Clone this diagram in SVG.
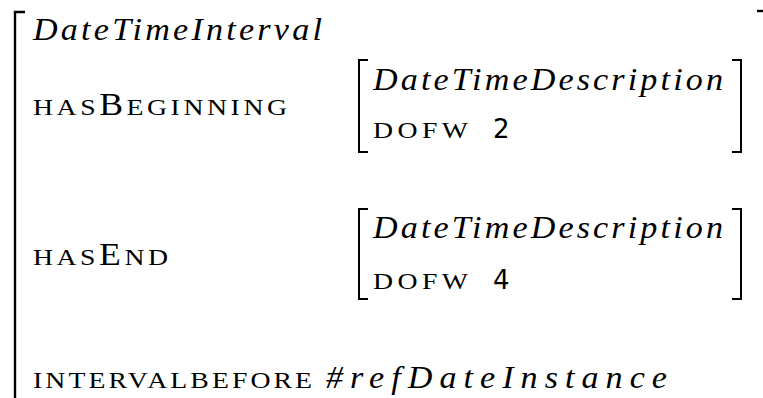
<svg xmlns="http://www.w3.org/2000/svg" width="763" height="398" viewBox="0 0 763 398">
  <style>
    .br { fill: none; stroke: #000; stroke-width: 2.4; stroke-linecap: butt; }
    .ibr { fill: none; stroke: #000; stroke-width: 2; }
    .mi { font-family: "Liberation Serif", "DejaVu Serif", serif; font-style: italic; font-size: 31px; fill: #000; }
    .sc { font-family: "Liberation Serif", "DejaVu Serif", serif; font-variant: small-caps; font-size: 35px; fill: #000; }
    .cap { font-size: 31px; }
    .val { font-family: "DejaVu Sans", "Liberation Sans", sans-serif; font-size: 26px; fill: #000; }
  </style>
  <rect width="763" height="398" fill="#fff"/>

  <!-- outer attribute-value matrix (right edge runs off the canvas) -->
  <g id="avm-outer">
    <path class="br" d="M25,12 H15 V398"/>
    <path class="br" d="M757,11 H763"/>
    <text class="mi" transform="translate(33,40) scale(1.1,1)" textLength="262.7" lengthAdjust="spacing">DateTimeInterval</text>
  </g>

  <!-- feature: hasBeginning -->
  <g id="has-beginning">
    <text class="sc" transform="translate(33,115) scale(1.15,1)" textLength="220.9" lengthAdjust="spacing">has<tspan class="cap">B</tspan>eginning</text>
    <g id="beginning-value">
      <path class="ibr" d="M368,60 H359 V152 H368"/>
      <path class="ibr" d="M732,60 H741 V152 H732"/>
      <text class="mi" transform="translate(373,90) scale(1.1,1)" textLength="318.2" lengthAdjust="spacing">DateTimeDescription</text>
      <text class="sc" transform="translate(373,138) scale(1.15,1)" textLength="82.6" lengthAdjust="spacing">dofw</text>
      <text class="val" x="493" y="138">2</text>
    </g>
  </g>

  <!-- feature: hasEnd -->
  <g id="has-end">
    <text class="sc" transform="translate(33,265) scale(1.15,1)" textLength="117.4" lengthAdjust="spacing">has<tspan class="cap">E</tspan>nd</text>
    <g id="end-value">
      <path class="ibr" d="M368,209 H359 V299 H368"/>
      <path class="ibr" d="M732,209 H741 V299 H732"/>
      <text class="mi" transform="translate(373,238) scale(1.1,1)" textLength="318.2" lengthAdjust="spacing">DateTimeDescription</text>
      <text class="sc" transform="translate(373,289) scale(1.15,1)" textLength="82.6" lengthAdjust="spacing">dofw</text>
      <text class="val" x="493" y="289">4</text>
    </g>
  </g>

  <!-- feature: intervalbefore -->
  <g id="interval-before">
    <text class="sc" transform="translate(33,388) scale(1.15,1)" textLength="242.6" lengthAdjust="spacing">intervalbefore</text>
    <text class="mi" transform="translate(326,388) scale(1.1,1)" textLength="310" lengthAdjust="spacing">#refDateInstance</text>
  </g>
</svg>
